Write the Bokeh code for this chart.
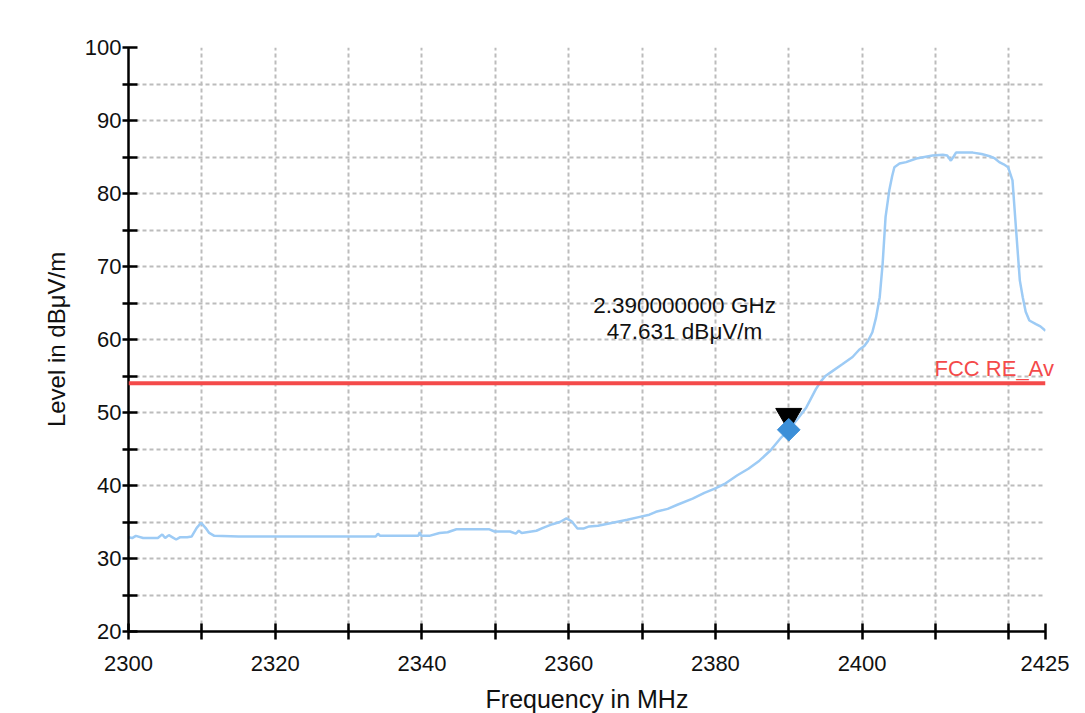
import math
from bokeh.plotting import figure
from bokeh.models import FixedTicker, Label, Span, LinearAxis
from bokeh.embed import file_html
from bokeh.resources import INLINE

# ---- data ----
freq_mhz = [2300, 2300.5, 2301, 2302, 2303, 2304, 2304.6, 2305, 2305.5, 2306, 2306.5, 2307, 2308,
            2308.6, 2309.3, 2309.9, 2310.5, 2311, 2311.7, 2315, 2320, 2325, 2330, 2333.7, 2334,
            2334.3, 2337, 2339.5, 2339.7, 2339.9, 2341, 2342.4, 2343.5, 2344.7, 2347, 2349.2,
            2349.9, 2352, 2352.8, 2353.2, 2353.6, 2355.6, 2356.5, 2357.8, 2358.8, 2359.7, 2360.4,
            2361.2, 2362, 2362.8, 2364, 2366, 2368, 2369.7, 2371, 2371.9, 2373.5, 2374.9, 2376.9,
            2378.5, 2380, 2381.4, 2383, 2384.5, 2386, 2387.5, 2389, 2390, 2391.2, 2392.4, 2393.7,
            2394.4, 2395, 2396, 2397.3, 2398.7, 2399.6, 2400.3, 2400.8, 2401.4, 2401.9, 2402.4,
            2402.8, 2403.2, 2403.7, 2404.1, 2404.4, 2405.1, 2406, 2407.4, 2408.5, 2409.6, 2411,
            2411.6, 2412.1, 2412.5, 2412.8, 2414, 2415.1, 2416.3, 2417.4, 2418.1, 2418.7, 2419.3,
            2419.9, 2420.5, 2421, 2421.5, 2421.9, 2422.3, 2422.8, 2423.7, 2424.3, 2425]
level_dbuv = [32.9, 32.8, 33.1, 32.8, 32.8, 32.8, 33.3, 32.8, 33.2, 32.9, 32.6, 32.9, 32.9,
              33.0, 34.2, 34.9, 34.2, 33.5, 33.1, 33.0, 33.0, 33.0, 33.0, 33.0, 33.4,
              33.1, 33.1, 33.1, 33.6, 33.1, 33.1, 33.5, 33.6, 34.0, 34.0, 34.0,
              33.7, 33.7, 33.4, 33.8, 33.5, 33.8, 34.2, 34.7, 35.0, 35.5, 35.1,
              34.1, 34.1, 34.4, 34.5, 34.9, 35.3, 35.7, 36.0, 36.4, 36.8, 37.4, 38.2,
              39.0, 39.6, 40.3, 41.4, 42.3, 43.4, 44.8, 46.6, 47.6, 49.1, 50.7, 53.2,
              54.3, 55.0, 55.7, 56.6, 57.6, 58.6, 59.1, 59.8, 61.0, 63.0, 65.8,
              70.4, 76.8, 80.4, 82.4, 83.6, 84.1, 84.3, 84.8, 85.0, 85.2, 85.3,
              85.2, 84.5, 85.1, 85.6, 85.6, 85.6, 85.4, 85.1, 84.8, 84.3, 84.0,
              83.6, 81.8, 74.9, 68.1, 65.8, 63.8, 62.6, 62.1, 61.8, 61.2]

limit_name = "FCC RE_Av"
limit_level = 54.0
marker_freq_mhz = 2390.0
marker_level = 47.631

x_ticks = [2300, 2310, 2320, 2330, 2340, 2350, 2360, 2370, 2380, 2390, 2400, 2410, 2420, 2425]
x_labels = [2300, 2320, 2340, 2360, 2380, 2400, 2425]
y_ticks = [20, 25, 30, 35, 40, 45, 50, 55, 60, 65, 70, 75, 80, 85, 90, 95, 100]
y_labels = [20, 30, 40, 50, 60, 70, 80, 90, 100]

FONT = "Liberation Sans"
INK = "#111111"
RED = "#f44a4a"

p = figure(frame_width=917, frame_height=584,
           x_range=(2300, 2425), y_range=(20, 100),
           output_backend="svg", toolbar_location=None,
           min_border_left=128, min_border_top=47, min_border_right=24, min_border_bottom=82,
           x_axis_label="Frequency in MHz", y_axis_label="Level in dB\u03bcV/m")
p.outline_line_color = None
p.background_fill_color = "white"
p.border_fill_color = "white"

xt = FixedTicker(ticks=x_ticks)
yt = FixedTicker(ticks=y_ticks)
p.xaxis.ticker = xt
p.yaxis.ticker = yt
p.xgrid.ticker = xt
p.ygrid.ticker = yt
p.xaxis.major_label_overrides = {t: (str(t) if t in x_labels else "") for t in x_ticks}
p.yaxis.major_label_overrides = {t: (str(t) if t in y_labels else "") for t in y_ticks}

for g in (p.xgrid, p.ygrid):
    g.grid_line_color = "#bcbcbc"
    g.grid_line_dash = "4 3"
    g.grid_line_width = 2

for ax in (p.xaxis, p.yaxis):
    ax.axis_line_color = "black"
    ax.axis_line_width = 2.5
    ax.major_tick_line_color = "black"
    ax.major_tick_line_width = 2.5
    ax.minor_tick_line_color = None
    ax.major_label_text_font = FONT
    ax.major_label_text_font_size = "22px"
    ax.major_label_text_color = INK
    ax.axis_label_text_font = FONT
    ax.axis_label_text_font_style = "normal"
    ax.axis_label_text_color = INK

p.xaxis.axis_label_text_font_size = "25px"
p.yaxis.axis_label_text_font_size = "24px"
p.xaxis.major_tick_in = 8
p.xaxis.major_tick_out = 8
p.xaxis.major_label_standoff = 16
p.xaxis.axis_label_standoff = 11
p.yaxis.major_tick_in = 9
p.yaxis.major_tick_out = 6
p.yaxis.major_label_standoff = 1
p.yaxis.axis_label_standoff = 12

# limit line
p.add_layout(Span(location=limit_level, dimension="width", line_color=RED, line_width=4))

# limit name: drawn as an unlined right-side axis label so it may run past the frame edge
name_pos = limit_level + 2.0
name_axis = LinearAxis(ticker=FixedTicker(ticks=[name_pos]),
                       major_label_overrides={name_pos: limit_name},
                       axis_line_color=None, major_tick_line_color=None,
                       minor_tick_line_color=None, major_tick_in=0, major_tick_out=0,
                       major_label_standoff=-111,
                       major_label_text_font=FONT, major_label_text_font_size="22px",
                       major_label_text_color=RED)
p.add_layout(name_axis, "right")

# trace
p.line(freq_mhz, level_dbuv, line_color="#9dcbf5", line_width=2.5)

# marker
p.scatter([marker_freq_mhz], [marker_level + 1.9], marker="inverted_triangle", size=26,
          fill_color="black", line_color="black")
p.scatter([marker_freq_mhz], [marker_level], marker="square", angle=math.pi / 4, size=16,
          fill_color="#3b8fd8", line_color="#3b8fd8")

p.add_layout(Label(x=marker_freq_mhz - 14.2, y=marker_level + 17.0,
                   text=f"{marker_freq_mhz / 1000:.9f} GHz", text_align="center",
                   text_baseline="middle", text_font=FONT, text_font_size="22.5px",
                   text_color=INK))
p.add_layout(Label(x=marker_freq_mhz - 14.2, y=marker_level + 13.4,
                   text=f"{marker_level:.3f} dB\u03bcV/m", text_align="center",
                   text_baseline="middle", text_font=FONT, text_font_size="22.5px",
                   text_color=INK))

open("out.html", "w").write(file_html(p, INLINE))
